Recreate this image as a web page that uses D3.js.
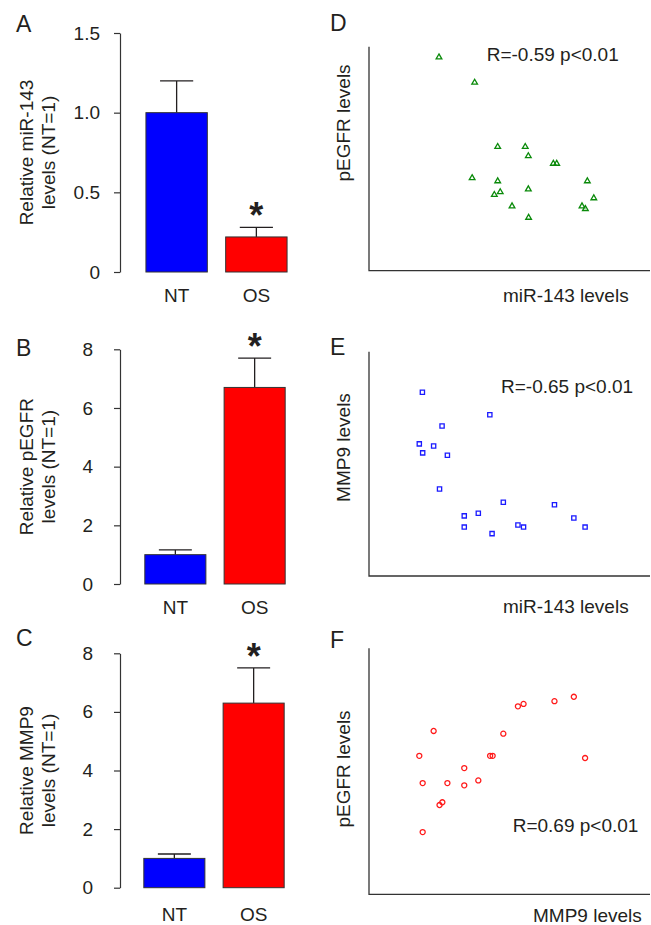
<!DOCTYPE html>
<html>
<head>
<meta charset="utf-8">
<script src="https://cdn.jsdelivr.net/npm/d3@7"></script>
<style>
  body { margin: 0; background: #fff; }
  svg { display: block; font-family: Arial, "Liberation Sans", sans-serif; }
  text { fill: #231f20; }
</style>
</head>
<body>
<svg id="fig" width="651" height="925"></svg>
<script>
// bar panels (A-C)
var groups = ["NT", "OS"];
var mirMean = [1.0, 0.22], mirErr = [0.2, 0.06];
var egfrMean = [1.0, 6.7], egfrErr = [0.16, 1.0];
var mmpMean = [1.0, 6.3], mmpErr = [0.15, 1.2];
var mirTicks = [0, 0.5, 1.0, 1.5];
var foldTicks = [0, 2, 4, 6, 8];

// scatter panels (D-F), arbitrary units 0-100
var dMir  = [24.9, 37.6, 45.8, 55.6, 56.7, 65.6, 66.8, 36.7, 45.8, 77.7, 56.7, 46.7, 44.6, 80.0, 50.9, 75.8, 77.0, 56.8];
var dEgfr = [95.3, 84.0, 55.3, 55.3, 51.2, 47.8, 47.8, 41.4, 40.0, 40.0, 36.4, 35.1, 33.9, 32.4, 28.8, 28.8, 27.6, 23.7];
var eMir  = [19.0, 43.0, 26.0, 17.9, 23.0, 19.1, 27.9, 25.1, 47.8, 66.0, 38.9, 33.9, 72.9, 53.0, 55.0, 33.9, 76.9, 43.8];
var eMmp  = [81.9, 71.9, 66.9, 58.9, 58.0, 54.9, 53.8, 38.8, 32.9, 31.8, 28.0, 26.8, 25.9, 22.7, 21.8, 21.8, 21.8, 18.9];
var fMmp  = [72.9, 66.0, 55.0, 53.0, 23.0, 47.8, 17.9, 43.1, 44.0, 76.9, 33.9, 19.1, 27.9, 38.9, 33.9, 26.1, 25.1, 19.1];
var fEgfr = [80.3, 78.5, 77.4, 76.4, 66.4, 65.3, 56.3, 56.3, 56.3, 55.4, 51.3, 45.2, 45.2, 46.3, 44.3, 37.4, 36.3, 25.3];

var svg = d3.select("#fig");
var ink = "#231f20", axisCol = "#333";
var barColors = ["#0000ff", "#ff0000"];
var fs = 19;

function barPanel(opt) {
    var g = svg.append("g");
    var x = d3.scaleBand().domain(groups).range(opt.xr).paddingInner(0.23).paddingOuter(0.25);
    var y = d3.scaleLinear().domain([0, opt.ticks[opt.ticks.length - 1]]).range(opt.yr);

    var ax = g.append("g")
        .attr("transform", "translate(120,0)")
        .call(d3.axisLeft(y).tickValues(opt.ticks).tickSize(6).tickSizeOuter(0)
            .tickPadding(opt.pad)
            .tickFormat(function(d){ return d === 0 ? "0" : opt.fmt(d); }));
    ax.select(".domain").attr("stroke", axisCol).attr("stroke-width", 1.2);
    ax.selectAll(".tick line").attr("stroke", axisCol).attr("stroke-width", 1.2);
    ax.selectAll(".tick text").attr("font-size", fs).attr("fill", ink)
        .style("font-family", "Arial, 'Liberation Sans', sans-serif");

    var data = groups.map(function(k, i){ return {k: k, m: opt.mean[i], e: opt.err[i], c: barColors[i]}; });

    // error bars
    g.selectAll(".err").data(data).enter().append("path")
        .attr("fill", "none").attr("stroke", ink).attr("stroke-width", 1.3)
        .attr("d", function(d){
            var cx = x(d.k) + x.bandwidth() / 2, top = y(d.m + d.e), hw = x.bandwidth() * 0.27;
            return "M" + cx + "," + y(d.m) + "V" + top + "M" + (cx - hw) + "," + top + "H" + (cx + hw);
        });

    g.selectAll(".bar").data(data).enter().append("rect")
        .attr("x", function(d){ return x(d.k); })
        .attr("width", x.bandwidth())
        .attr("y", function(d){ return y(d.m); })
        .attr("height", function(d){ return y(0) - y(d.m); })
        .attr("fill", function(d){ return d.c; })
        .attr("stroke", "#333").attr("stroke-width", 1);

    // significance star on OS
    var os = data[1];
    g.append("text")
        .attr("x", x(os.k) + x.bandwidth() / 2)
        .attr("y", y(os.m + os.e) + 1)
        .attr("text-anchor", "middle").attr("font-size", 36).attr("font-weight", "bold")
        .text("*");

    g.selectAll(".xl").data(groups).enter().append("text")
        .attr("x", function(d){ return x(d) + x.bandwidth() / 2; })
        .attr("y", opt.xlab)
        .attr("text-anchor", "middle").attr("font-size", fs)
        .text(function(d){ return d; });

    var cy = (opt.yr[0] + opt.yr[1]) / 2;
    opt.ylab.forEach(function(t, i){
        g.append("text")
            .attr("transform", "translate(" + (33 + i * 22) + "," + cy + ") rotate(-90)")
            .attr("text-anchor", "middle").attr("font-size", fs)
            .text(t);
    });

    g.append("text").attr("x", 16).attr("y", opt.letterY)
        .attr("font-size", 23).text(opt.letter);
}

function scatterPanel(opt) {
    var g = svg.append("g");
    var x = d3.scaleLinear().domain([0, 100]).range([369, 650]);
    var y = d3.scaleLinear().domain([0, 100]).range(opt.yr);

    g.append("path")
        .attr("fill", "none").attr("stroke", axisCol).attr("stroke-width", 1.3)
        .attr("d", "M" + x(0) + "," + y(100) + "V" + y(0) + "H" + x(100));

    var sym = d3.symbol().type(opt.shape).size(opt.size);
    g.selectAll(".pt").data(opt.xs).enter().append("path")
        .attr("d", sym)
        .attr("transform", function(d, i){ return "translate(" + x(d) + "," + y(opt.ys[i]) + ")"; })
        .attr("fill", "none").attr("stroke", opt.color).attr("stroke-width", 1.3);

    g.append("text").attr("x", opt.stat[0]).attr("y", opt.stat[1])
        .attr("font-size", fs).text(opt.statText);

    g.append("text").attr("x", opt.xlab[0]).attr("y", opt.xlab[1])
        .attr("font-size", fs).text(opt.xText);

    g.append("text")
        .attr("transform", "translate(350," + opt.ylabY + ") rotate(-90)")
        .attr("text-anchor", "middle").attr("font-size", fs)
        .text(opt.yText);

    g.append("text").attr("x", 330).attr("y", opt.letterY)
        .attr("font-size", 23).text(opt.letter);
}

barPanel({letter: "A", letterY: 31.5, mean: mirMean, err: mirErr, ticks: mirTicks, yr: [272, 33],
    xr: [126, 307], pad: 14, fmt: d3.format(".1f"), xlab: 302,
    ylab: ["Relative miR-143", "levels (NT=1)"]});
barPanel({letter: "B", letterY: 355.5, mean: egfrMean, err: egfrErr, ticks: foldTicks, yr: [584, 349.3],
    xr: [125, 305], pad: 21, fmt: d3.format("d"), xlab: 614,
    ylab: ["Relative pEGFR", "levels (NT=1)"]});
barPanel({letter: "C", letterY: 646, mean: mmpMean, err: mmpErr, ticks: foldTicks, yr: [887.7, 653.3],
    xr: [124, 304], pad: 21, fmt: d3.format("d"), xlab: 921,
    ylab: ["Relative MMP9", "levels (NT=1)"]});

scatterPanel({letter: "D", letterY: 31, xs: dMir, ys: dEgfr, yr: [270.7, 46.7],
    shape: d3.symbolTriangle, size: 14, color: "#0a8a0a",
    stat: [486.7, 60.7], statText: "R=-0.59 p<0.01",
    xlab: [503, 301.7], xText: "miR-143 levels", ylabY: 123, yText: "pEGFR levels"});
scatterPanel({letter: "E", letterY: 355, xs: eMir, ys: eMmp, yr: [576, 351.7],
    shape: d3.symbolSquare, size: 18, color: "#1a1aff",
    stat: [501, 393.3], statText: "R=-0.65 p<0.01",
    xlab: [503, 613.3], xText: "miR-143 levels", ylabY: 447.5, yText: "MMP9 levels"});
scatterPanel({letter: "F", letterY: 648, xs: fMmp, ys: fEgfr, yr: [894.3, 648.3],
    shape: d3.symbolCircle, size: 20, color: "#ff1a1a",
    stat: [512.7, 832.3], statText: "R=0.69 p<0.01",
    xlab: [533, 921.5], xText: "MMP9 levels", ylabY: 769, yText: "pEGFR levels"});
</script>
</body>
</html>
